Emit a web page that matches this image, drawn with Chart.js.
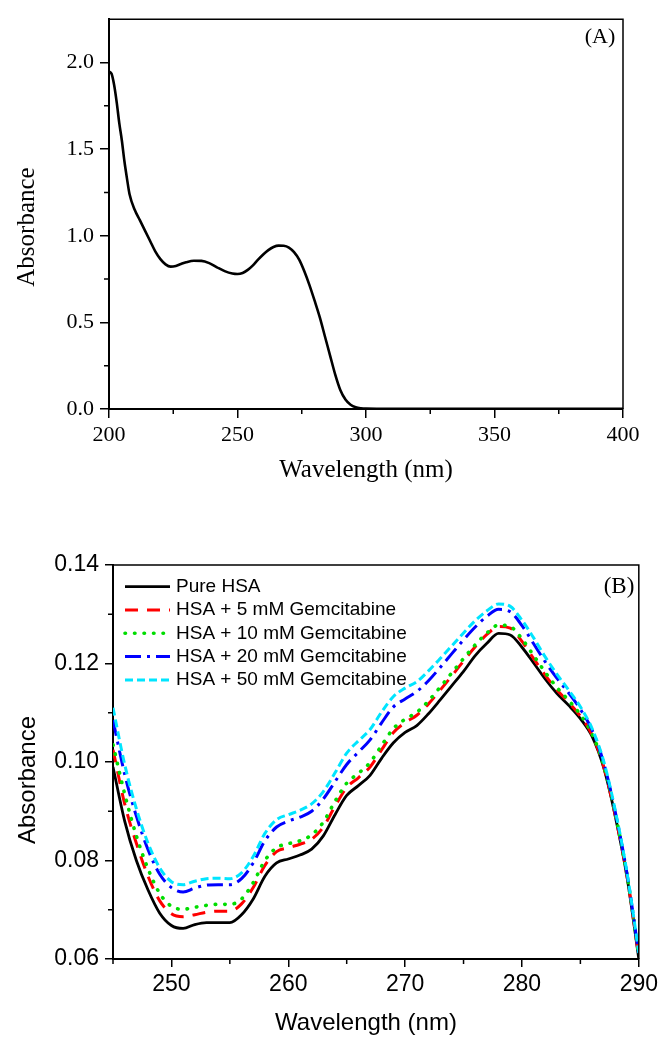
<!DOCTYPE html>
<html>
<head>
<meta charset="utf-8">
<script src="https://cdn.jsdelivr.net/npm/chart.js@4.4.1/dist/chart.umd.min.js"></script>
<style>
  body { margin: 0; background: #fff; }
  #wrap { position: relative; width: 662px; height: 1037px; overflow: hidden; }
  canvas { position: absolute; left: 0; }
  #chartA { top: 0; }
  #chartB { top: 500px; }
</style>
</head>
<body>
<div id="wrap">
  <canvas id="chartA" width="662" height="500"></canvas>
  <canvas id="chartB" width="662" height="537"></canvas>
</div>
<script>
// ---- panel (A) data: full HSA spectrum ----
const wavelengthA = [200, 201, 202, 203, 204, 205, 206, 207, 208, 210, 212, 214, 216, 218, 220, 222, 224, 226, 228, 230,
  233, 236, 239, 242, 245, 248, 250, 252, 254, 256, 258, 260, 262, 264, 266, 268, 270, 272, 274, 276,
  278, 280, 282, 284, 286, 288, 290, 292, 294, 296, 298, 300, 310, 320, 340, 360, 380, 400];
const absorbanceA = [1.948, 1.935, 1.87, 1.77, 1.65, 1.55, 1.43, 1.33, 1.24, 1.15, 1.09, 1.03, 0.97, 0.91, 0.865, 0.835, 0.822, 0.826, 0.837, 0.847,
  0.856, 0.855, 0.842, 0.818, 0.796, 0.782, 0.779, 0.785, 0.803, 0.829, 0.862, 0.892, 0.917, 0.935, 0.943, 0.942, 0.932, 0.905, 0.862, 0.795,
  0.715, 0.625, 0.53, 0.42, 0.31, 0.2, 0.11, 0.055, 0.025, 0.01, 0.004, 0.002, 0.001, 0.001, 0.001, 0.001, 0.001, 0.001];
const xTicksA = [200, 250, 300, 350, 400];
const xMinorA = [225, 275, 325, 375];
const yTicksA = [0, 0.5, 1.0, 1.5, 2.0];
const yMinorA = [0.25, 0.75, 1.25, 1.75];

// ---- panel (B) data: HSA with gemcitabine ----
const wavelengthB = [245, 246, 247, 248, 249, 250, 251, 252, 253, 254, 255, 256, 257, 258, 259, 260, 261, 262, 263, 264,
  265, 266, 267, 268, 269, 270, 271, 272, 273, 274, 275, 276, 277, 278, 279, 280, 281, 282, 283, 284,
  285, 286, 287, 288, 289, 290];
const seriesNames = ['Pure HSA', 'HSA + 5 mM Gemcitabine', 'HSA + 10 mM Gemcitabine', 'HSA + 20 mM Gemcitabine', 'HSA + 50 mM Gemcitabine'];
const pureHSA = [0.0990, 0.0880, 0.0800, 0.0740, 0.0693, 0.0668, 0.0662, 0.0670, 0.0674, 0.0674, 0.0674, 0.0690, 0.0722, 0.0768, 0.0795, 0.0803, 0.0811, 0.0823, 0.0850, 0.0893,
  0.0932, 0.0952, 0.0973, 0.1008, 0.1039, 0.1060, 0.1074, 0.1098, 0.1126, 0.1155, 0.1184, 0.1216, 0.1241, 0.1261, 0.1258, 0.1233, 0.1201, 0.1168, 0.1139, 0.1115,
  0.1088, 0.1052, 0.0988, 0.0888, 0.0765, 0.0600];
const gem5 = [0.1025, 0.0915, 0.0835, 0.0768, 0.0718, 0.0692, 0.0686, 0.0690, 0.0695, 0.0697, 0.0697, 0.0712, 0.0745, 0.0790, 0.0818, 0.0826, 0.0833, 0.0843, 0.0868, 0.0910,
  0.0948, 0.0968, 0.0990, 0.1025, 0.1060, 0.1080, 0.1095, 0.1118, 0.1146, 0.1175, 0.1205, 0.1234, 0.1259, 0.1275, 0.1272, 0.1245, 0.1210, 0.1176, 0.1146, 0.1121,
  0.1093, 0.1055, 0.0990, 0.0890, 0.0767, 0.0605];
const gem10 = [0.1035, 0.0935, 0.0850, 0.0783, 0.0733, 0.0707, 0.0701, 0.0705, 0.0709, 0.0711, 0.0711, 0.0722, 0.0755, 0.0800, 0.0826, 0.0834, 0.0840, 0.0852, 0.0878, 0.0920,
  0.0957, 0.0977, 0.0999, 0.1034, 0.1068, 0.1087, 0.1101, 0.1124, 0.1152, 0.1181, 0.1210, 0.1238, 0.1262, 0.1278, 0.1275, 0.1250, 0.1216, 0.1182, 0.1151, 0.1125,
  0.1096, 0.1057, 0.0993, 0.0893, 0.0769, 0.0608];
const gem20 = [0.1085, 0.0975, 0.0890, 0.0822, 0.0772, 0.0745, 0.0736, 0.0744, 0.0750, 0.0751, 0.0751, 0.0763, 0.0795, 0.0840, 0.0868, 0.0880, 0.0888, 0.0900, 0.0925, 0.0960,
  0.0995, 0.1020, 0.1045, 0.1080, 0.1112, 0.1128, 0.1143, 0.1165, 0.1192, 0.1220, 0.1248, 0.1274, 0.1296, 0.1310, 0.1305, 0.1277, 0.1240, 0.1203, 0.1170, 0.1140,
  0.1107, 0.1065, 0.0998, 0.0897, 0.0772, 0.0610];
const gem50 = [0.1110, 0.0995, 0.0905, 0.0835, 0.0785, 0.0757, 0.0751, 0.0758, 0.0763, 0.0764, 0.0763, 0.0775, 0.0808, 0.0855, 0.0883, 0.0893, 0.0902, 0.0915, 0.0940, 0.0978,
  0.1018, 0.1043, 0.1066, 0.1102, 0.1133, 0.1150, 0.1163, 0.1185, 0.1210, 0.1236, 0.1262, 0.1287, 0.1307, 0.1321, 0.1316, 0.1288, 0.1252, 0.1213, 0.1178, 0.1146,
  0.1112, 0.1068, 0.1001, 0.0900, 0.0774, 0.0612];
const xTicksB = [250, 260, 270, 280, 290];
const xMinorB = [245, 255, 265, 275, 285];
const yTicksB = [0.06, 0.08, 0.10, 0.12, 0.14];
const yMinorB = [0.07, 0.09, 0.11, 0.13];

const SERIF = "'Liberation Serif', 'Times New Roman', serif";
const SANS = "'Liberation Sans', Arial, sans-serif";

function pts(xs, ys) {
  return xs.map((x, i) => ({x: x, y: ys[i]}));
}

// frame, minor ticks, axis titles, panel letter and (for B) the legend
const decor = {
  id: 'decor',
  afterDraw(chart, args, o) {
    const ctx = chart.ctx;
    const a = chart.chartArea;
    const xs = chart.scales.x, ys = chart.scales.y;
    ctx.save();
    ctx.strokeStyle = '#000';
    ctx.lineWidth = o.frameWidth;
    ctx.beginPath();
    ctx.moveTo(a.left, a.top);
    ctx.lineTo(a.right, a.top);
    ctx.lineTo(a.right, a.bottom);
    ctx.stroke();

    ctx.lineWidth = 1.5;
    ctx.beginPath();
    o.xMinor.forEach(v => {
      const px = xs.getPixelForValue(v);
      ctx.moveTo(px, a.bottom);
      ctx.lineTo(px, a.bottom + 5);
    });
    o.yMinor.forEach(v => {
      const py = ys.getPixelForValue(v);
      ctx.moveTo(a.left, py);
      ctx.lineTo(a.left - 5, py);
    });
    ctx.stroke();

    ctx.fillStyle = '#000';
    ctx.textAlign = 'center';
    ctx.textBaseline = 'middle';
    ctx.font = o.titleFont;
    ctx.fillText(o.xTitle, o.xTitlePos[0], o.xTitlePos[1]);
    ctx.save();
    ctx.translate(o.yTitlePos[0], o.yTitlePos[1]);
    ctx.rotate(-Math.PI / 2);
    ctx.fillText(o.yTitle, 0, 0);
    ctx.restore();

    ctx.font = o.panelFont;
    ctx.fillText(o.panel, o.panelPos[0], o.panelPos[1]);

    if (o.legend) {
      ctx.font = o.legend.font;
      ctx.textAlign = 'left';
      const lx = a.left + o.legend.dx;
      chart.data.datasets.forEach((ds, i) => {
        const ly = a.top + o.legend.dy + i * o.legend.step;
        ctx.save();
        ctx.strokeStyle = ds.borderColor;
        ctx.lineWidth = ds.borderWidth;
        ctx.lineCap = ds.borderCapStyle || 'butt';
        ctx.setLineDash(ds.borderDash || []);
        ctx.beginPath();
        ctx.moveTo(lx, ly);
        ctx.lineTo(lx + o.legend.len, ly);
        ctx.stroke();
        ctx.restore();
        ctx.fillText(ds.label, lx + o.legend.len + 6, ly);
      });
    }
    ctx.restore();
  }
};

// ---------- chart A ----------
new Chart(document.getElementById('chartA'), {
  type: 'line',
  data: {
    datasets: [{
      label: 'HSA',
      data: pts(wavelengthA, absorbanceA),
      borderColor: '#000',
      borderWidth: 2.6,
      pointRadius: 0,
      cubicInterpolationMode: 'monotone',
      fill: false
    }]
  },
  options: {
    responsive: false,
    animation: false,
    devicePixelRatio: 1,
    layout: { padding: { left: 0, top: 16, right: 39, bottom: 0 } },
    plugins: {
      legend: { display: false },
      tooltip: { enabled: false },
      decor: {
        frameWidth: 1.5,
        xMinor: xMinorA, yMinor: yMinorA,
        titleFont: '25px ' + SERIF,
        xTitle: 'Wavelength (nm)', xTitlePos: [366, 470],
        yTitle: 'Absorbance', yTitlePos: [27, 227],
        panelFont: '22px ' + SERIF,
        panel: '(A)', panelPos: [600, 37]
      }
    },
    scales: {
      x: {
        type: 'linear', min: 200, max: 400,
        afterFit: s => { s.height = 91; },
        afterBuildTicks: s => { s.ticks = xTicksA.map(v => ({value: v})); },
        grid: { drawOnChartArea: false, tickLength: 9, color: '#000', lineWidth: 1.5 },
        border: { color: '#000', width: 2 },
        ticks: { color: '#000', padding: 4, maxRotation: 0, font: { family: SERIF, size: 22 } }
      },
      y: {
        type: 'linear', min: 0, max: 2.25,
        afterFit: s => { s.width = 109; },
        afterBuildTicks: s => { s.ticks = yTicksA.map(v => ({value: v})); },
        grid: { drawOnChartArea: false, tickLength: 9, color: '#000', lineWidth: 1.5 },
        border: { color: '#000', width: 2 },
        ticks: { color: '#000', padding: 6, font: { family: SERIF, size: 22 }, callback: v => v.toFixed(1) }
      }
    }
  },
  plugins: [decor]
});

// ---------- chart B ----------
const seriesB = [pureHSA, gem5, gem10, gem20, gem50];
const colorsB = ['#000000', '#ff0000', '#00dd00', '#0000ff', '#00e5ff'];
const dashB = [[], [13, 9], [0.5, 9], [16, 6, 3, 6], [8, 4]];
const widthB = [2.8, 3, 3.6, 3, 3];
const capB = ['butt', 'butt', 'round', 'butt', 'butt'];

new Chart(document.getElementById('chartB'), {
  type: 'line',
  data: {
    datasets: seriesB.map((ys, i) => ({
      label: seriesNames[i],
      data: pts(wavelengthB, ys),
      borderColor: colorsB[i],
      borderWidth: widthB[i],
      borderDash: dashB[i],
      borderCapStyle: capB[i],
      pointRadius: 0,
      cubicInterpolationMode: 'monotone',
      fill: false,
      order: 5 - i
    }))
  },
  options: {
    responsive: false,
    animation: false,
    devicePixelRatio: 1,
    layout: { padding: { left: 0, top: 65, right: 20, bottom: 0 } },
    plugins: {
      legend: { display: false },
      tooltip: { enabled: false },
      decor: {
        frameWidth: 1.5,
        xMinor: xMinorB, yMinor: yMinorB,
        titleFont: '24px ' + SANS,
        xTitle: 'Wavelength (nm)', xTitlePos: [366, 523],
        yTitle: 'Absorbance', yTitlePos: [28, 280],
        panelFont: '23px ' + SERIF,
        panel: '(B)', panelPos: [619, 87],
        legend: { font: '19px ' + SANS, dx: 12, dy: 21.7, step: 23.3, len: 45 }
      }
    },
    scales: {
      x: {
        type: 'linear', min: 245, max: 290,
        afterFit: s => { s.height = 537 - 459; },
        afterBuildTicks: s => { s.ticks = xTicksB.map(v => ({value: v})); },
        ticks: { color: '#000', padding: 4, maxRotation: 0, autoSkip: false, font: { family: SANS, size: 23 } },
        grid: { drawOnChartArea: false, tickLength: 8, color: '#000', lineWidth: 1.5 },
        border: { color: '#000', width: 2 }
      },
      y: {
        type: 'linear', min: 0.06, max: 0.14,
        afterFit: s => { s.width = 113; },
        afterBuildTicks: s => { s.ticks = yTicksB.map(v => ({value: v})); },
        ticks: { color: '#000', padding: 6, font: { family: SANS, size: 23 }, callback: v => v.toFixed(2) },
        grid: { drawOnChartArea: false, tickLength: 8, color: '#000', lineWidth: 1.5 },
        border: { color: '#000', width: 2 }
      }
    }
  },
  plugins: [decor]
});
</script>
</body>
</html>
